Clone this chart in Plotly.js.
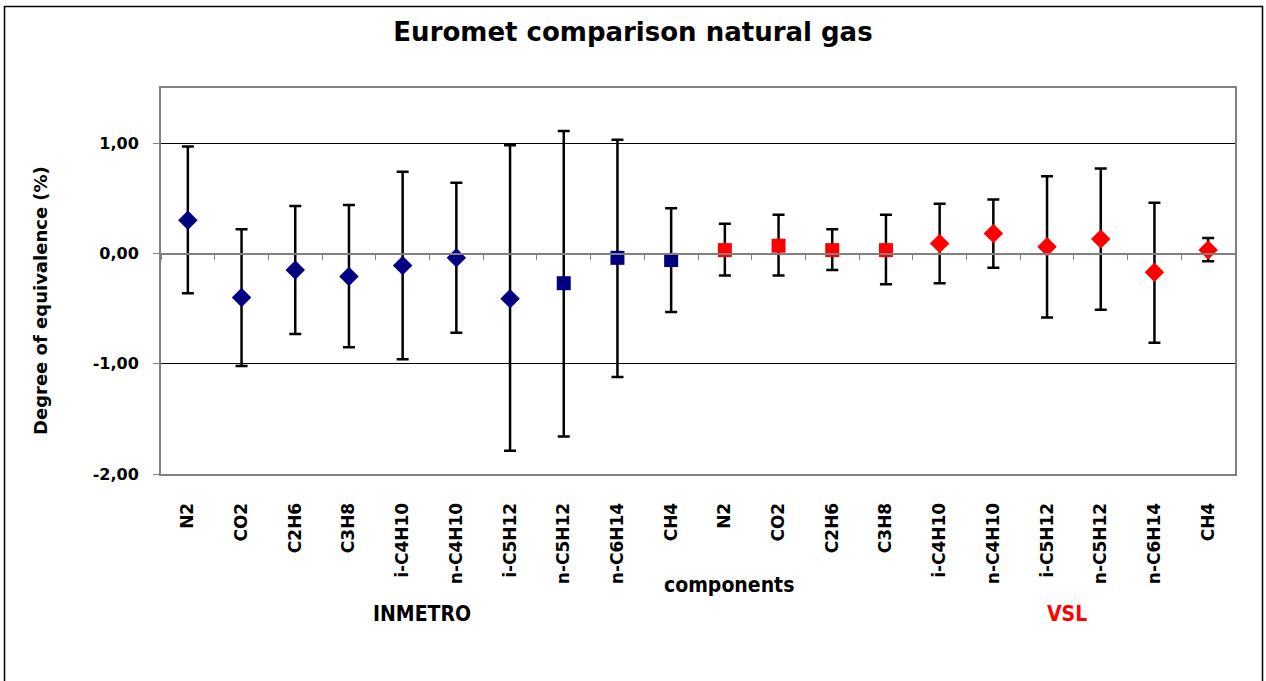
<!DOCTYPE html>
<html>
<head>
<meta charset="utf-8">
<script src="https://cdn.plot.ly/plotly-3.0.1.min.js"></script>
<style>
  html, body { margin: 0; padding: 0; background: #ffffff; }
  #chart { width: 1266px; height: 681px; }
</style>
</head>
<body>
<div id="chart"></div>
<script>
// ---- data ----
const components = ["N2", "CO2", "C2H6", "C3H8", "i-C4H10", "n-C4H10", "i-C5H12", "n-C5H12", "n-C6H14", "CH4"];

const inmetroValue = [0.30, -0.40, -0.15, -0.21, -0.11, -0.04, -0.41, -0.27, -0.04, -0.06];
const inmetroUpper = [0.97, 0.22, 0.43, 0.44, 0.74, 0.64, 0.98, 1.11, 1.03, 0.41];
const inmetroLower = [-0.36, -1.02, -0.73, -0.85, -0.96, -0.72, -1.79, -1.66, -1.12, -0.53];

const vslValue = [0.03, 0.07, 0.03, 0.03, 0.09, 0.18, 0.06, 0.13, -0.17, 0.03];
const vslUpper = [0.27, 0.35, 0.22, 0.35, 0.45, 0.49, 0.70, 0.77, 0.46, 0.14];
const vslLower = [-0.20, -0.20, -0.15, -0.28, -0.27, -0.13, -0.58, -0.51, -0.81, -0.07];

const yTickValues = [-2, -1, 0, 1];
const yTickLabels = ["-2,00", "-1,00", "0,00", "1,00"];

const labNames = ["INMETRO", "VSL"];

// ---- derived ----
const n = components.length;
const xInmetro = components.map((_, i) => i);
const xVsl = components.map((_, i) => i + n);
const allTickVals = xInmetro.concat(xVsl);
const allTickText = components.concat(components);
const boundaryTicks = [];
for (let i = 0; i <= 2 * n; i++) boundaryTicks.push(i - 0.5);

// marker styles
const inmetroSymbols = components.map((_, i) => (i < 7 ? "diamond" : "square"));
const vslSymbols = components.map((_, i) => (i < 4 ? "square" : "diamond"));
const sizeFor = s => (s === "square" ? 14 : 15);

const FONT = "DejaVu Sans, Verdana, sans-serif";
const FONT_C = "DejaVu Sans Condensed, DejaVu Sans, sans-serif";
const errStyle = { color: "#000000", thickness: 2.5, width: 6 };

const traces = [
  {
    type: "scatter", mode: "markers", name: labNames[0],
    x: xInmetro, y: inmetroValue,
    marker: { color: "#000080", opacity: 1, symbol: inmetroSymbols, size: inmetroSymbols.map(sizeFor), line: { width: 0 } },
    error_y: Object.assign({ type: "data", symmetric: false,
      array: inmetroValue.map((v, i) => inmetroUpper[i] - v),
      arrayminus: inmetroValue.map((v, i) => v - inmetroLower[i]) }, errStyle),
    cliponaxis: false
  },
  {
    type: "scatter", mode: "markers", name: labNames[1],
    x: xVsl, y: vslValue,
    marker: { color: "#ff0000", opacity: 1, symbol: vslSymbols, size: vslSymbols.map(sizeFor), line: { width: 0 } },
    error_y: Object.assign({ type: "data", symmetric: false,
      array: vslValue.map((v, i) => vslUpper[i] - v),
      arrayminus: vslValue.map((v, i) => v - vslLower[i]) }, errStyle),
    cliponaxis: false
  },
  { type: "scatter", mode: "markers", x: [], y: [], xaxis: "x2", yaxis: "y", showlegend: false, hoverinfo: "skip" }
];

const layout = {
  width: 1266, height: 681,
  margin: { l: 161, r: 31, t: 88, b: 207 },
  paper_bgcolor: "#ffffff", plot_bgcolor: "#ffffff",
  showlegend: false,
  font: { family: FONT, color: "#000000" },
  title: {
    text: "<b>Euromet comparison natural gas</b>",
    font: { family: FONT, size: 26, color: "#000000" },
    x: 0.5, xref: "container", xanchor: "center",
    y: 1 - 32 / 681, yref: "container", yanchor: "middle"
  },
  xaxis: {
    range: [-0.5, 2 * n - 0.5],
    tickmode: "array", tickvals: allTickVals, ticktext: allTickText,
    tickangle: -90, ticks: "", ticklabelstandoff: 20,
    tickfont: { family: FONT, size: 17, color: "#000000", weight: "bold" },
    showgrid: false, zeroline: false,
    showline: true, linecolor: "#808080", linewidth: 2, mirror: true,
    fixedrange: true
  },
  xaxis2: {
    overlaying: "x", anchor: "free", position: 2 / 3.5, side: "bottom",
    range: [-0.5, 2 * n - 0.5],
    tickmode: "array", tickvals: boundaryTicks, ticks: "outside", ticklen: 5, tickwidth: 1, tickcolor: "#808080",
    showticklabels: false, showgrid: false, zeroline: false,
    showline: true, linecolor: "#808080", linewidth: 1.5
  },
  yaxis: {
    range: [-2, 1.5],
    tickmode: "array", tickvals: yTickValues, ticktext: yTickLabels,
    ticks: "outside", ticklen: 6, tickcolor: "#808080", tickwidth: 1,
    ticklabelstandoff: 11,
    tickfont: { family: FONT, size: 16, color: "#000000", weight: "bold" },
    showgrid: true, gridcolor: "#000000", gridwidth: 1,
    zeroline: false,
    showline: true, linecolor: "#808080", linewidth: 2, mirror: true,
    fixedrange: true
  },
  annotations: [
    { text: "<b>Degree of equivalence (%)</b>", xref: "paper", yref: "paper", x: (40 - 161) / 1074, y: (474 - 301) / 386,
      xanchor: "center", yanchor: "middle", textangle: -90, showarrow: false, font: { family: FONT, size: 18, color: "#000000" } },
    { text: "<b>components</b>", xref: "paper", yref: "paper", x: (729 - 161) / 1074, y: (474 - 585) / 386,
      xanchor: "center", yanchor: "middle", showarrow: false, font: { family: FONT_C, size: 21, color: "#000000" } },
    { text: "<b>" + labNames[0] + "</b>", xref: "paper", yref: "paper", x: (422 - 161) / 1074, y: (474 - 614) / 386,
      xanchor: "center", yanchor: "middle", showarrow: false, font: { family: FONT_C, size: 21, color: "#000000" } },
    { text: "<b>" + labNames[1] + "</b>", xref: "paper", yref: "paper", x: (1067 - 161) / 1074, y: (474 - 614) / 386,
      xanchor: "center", yanchor: "middle", showarrow: false, font: { family: FONT_C, size: 21, color: "#ff0000" } }
  ],
  shapes: [
    { type: "rect", xref: "paper", yref: "paper",
      x0: (4.5 - 161) / 1074, x1: (1262.5 - 161) / 1074,
      y0: (474 - 700) / 386, y1: (474 - 6.5) / 386,
      line: { color: "#000000", width: 1.5 }, fillcolor: "rgba(0,0,0,0)", layer: "below" }
  ]
};

Plotly.newPlot("chart", traces, layout, { displayModeBar: false, staticPlot: true });
</script>
</body>
</html>
